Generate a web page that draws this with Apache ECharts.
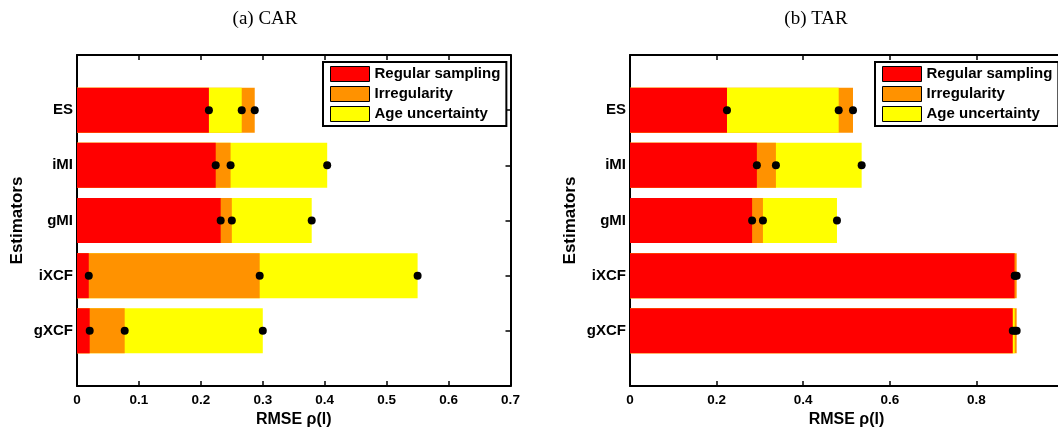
<!DOCTYPE html>
<html><head><meta charset="utf-8">
<script src="https://cdn.jsdelivr.net/npm/echarts@6/dist/echarts.min.js"></script>
<style>html,body{margin:0;padding:0;background:#fff;overflow:hidden}#c{width:1058px;height:428px}</style>
</head><body><div id="c"></div>
<script>
// ---- data (display order: top to bottom) ----
const estimators = ['ES', 'iMI', 'gMI', 'iXCF', 'gXCF'];
const seriesNames = ['Regular sampling', 'Irregularity', 'Age uncertainty'];
const carRegular      = [0.213, 0.224, 0.232, 0.019, 0.0205];
const carIrregularity = [0.287, 0.248, 0.250, 0.295, 0.077];
const carAge          = [0.266, 0.404, 0.379, 0.550, 0.300];
const tarRegular      = [0.224, 0.293, 0.282, 0.8885, 0.884];
const tarIrregularity = [0.515, 0.337, 0.307, 0.893, 0.893];
const tarAge          = [0.482, 0.535, 0.478, 0.889, 0.8885];
const carTickLabels = ['0', '0.1', '0.2', '0.3', '0.4', '0.5', '0.6', '0.7'];
const tarTickLabels = ['0', '0.2', '0.4', '0.6', '0.8', ''];
const panelTitles = ['(a) CAR', '(b) TAR'];
const xAxisName = 'RMSE ρ(l)';
const yAxisName = 'Estimators';

const colors = ['#FF0000', '#FF9200', '#FFFF00'];
const FONT = 'Liberation Sans, Arial, Helvetica, sans-serif';
const cats = [''].concat(estimators.slice().reverse()).concat([' ']);

function buildSeries(p, reg, irr, age) {
  const xi = p * 2, yi = p * 2;
  const layers = [[], [], []].map(() => cats.map(() => '-'));
  const dots = [];
  estimators.forEach((e, i) => {
    const idx = cats.length - 2 - i;
    const vals = [
      { v: reg[i], c: colors[0] },
      { v: irr[i], c: colors[1] },
      { v: age[i], c: colors[2] }
    ].sort((a, b) => b.v - a.v);
    vals.forEach((o, k) => {
      layers[k][idx] = { value: o.v, itemStyle: { color: o.c } };
      dots.push([o.v, idx]);
    });
  });
  const out = layers.map((d, k) => ({
    type: 'bar', name: 'layer' + p + k, xAxisIndex: xi, yAxisIndex: yi,
    data: d, barWidth: 45, barGap: '-100%', z: 2 + k, silent: true
  }));
  out.push({
    type: 'scatter', name: 'dots' + p, xAxisIndex: xi, yAxisIndex: yi,
    data: dots, symbol: 'circle', symbolSize: 8, z: 10, silent: true,
    itemStyle: { color: '#000', opacity: 1 }
  });
  return out;
}

const dummy = seriesNames.map((n, k) => ({
  type: 'bar', name: n, xAxisIndex: 0, yAxisIndex: 0, data: [],
  barWidth: 45, barGap: '-100%', itemStyle: { color: colors[k] }
}));

const axisLine = () => ({ show: true, onZero: false, lineStyle: { color: '#000', width: 2 } });
const tick = () => ({ show: true, inside: true, length: 5, lineStyle: { color: '#000', width: 1.5 } });

function xAxes(grid, max, interval, labels) {
  return [
    {
      gridIndex: grid, type: 'value', min: 0, max: max, interval: interval, position: 'bottom',
      axisLine: axisLine(), axisTick: tick(), splitLine: { show: false },
      axisLabel: {
        margin: 7, color: '#000', fontFamily: FONT, fontWeight: 'bold', fontSize: 13.5,
        formatter: v => labels[Math.round(v / interval)] || ''
      },
      name: xAxisName, nameLocation: 'middle', nameGap: 23,
      nameTextStyle: { color: '#000', fontFamily: FONT, fontWeight: 'bold', fontSize: 16 }
    },
    {
      gridIndex: grid, type: 'value', min: 0, max: max, interval: interval, position: 'top',
      axisLine: axisLine(), axisTick: tick(), splitLine: { show: false }, axisLabel: { show: false }
    }
  ];
}
function yAxes(grid) {
  return [
    {
      gridIndex: grid, type: 'category', data: cats, boundaryGap: false, position: 'left',
      axisLine: axisLine(), axisTick: tick(), splitLine: { show: false },
      axisLabel: { margin: 4, color: '#000', fontFamily: FONT, fontWeight: 'bold', fontSize: 15 },
      name: yAxisName, nameLocation: 'middle', nameGap: 51, nameRotate: 90,
      nameTextStyle: { color: '#000', fontFamily: FONT, fontWeight: 'bold', fontSize: 17 }
    },
    {
      gridIndex: grid, type: 'category', data: cats, boundaryGap: false, position: 'right',
      axisLine: axisLine(), axisTick: tick(), splitLine: { show: false }, axisLabel: { show: false }
    }
  ];
}
function legend(left) {
  return {
    left: left, top: 62, orient: 'vertical', data: seriesNames, icon: 'rect',
    itemWidth: 39, itemHeight: 15, itemGap: 4, padding: [4, 6, 4, 7],
    borderColor: '#000', borderWidth: 2, backgroundColor: '#fff', selectedMode: false,
    itemStyle: { borderColor: '#000', borderWidth: 1 },
    textStyle: { color: '#000', fontFamily: FONT, fontWeight: 'bold', fontSize: 15 }
  };
}

const chart = echarts.init(document.getElementById('c'), null, { renderer: 'canvas' });
chart.setOption({
  animation: false,
  backgroundColor: '#fff',
  grid: [
    { left: 77, top: 55, width: 433.5, height: 331, outerBoundsMode: 'none', containLabel: false },
    { left: 630, top: 55, width: 433, height: 331, outerBoundsMode: 'none', containLabel: false }
  ],
  xAxis: xAxes(0, 0.7, 0.1, carTickLabels).concat(xAxes(1, 1, 0.2, tarTickLabels)),
  yAxis: yAxes(0).concat(yAxes(1)),
  legend: [legend(323), legend(875)],
  graphic: [
    { type: 'text', x: 265, y: 19, style: { text: panelTitles[0], textAlign: 'center', textVerticalAlign: 'middle', font: '19px "Liberation Serif", "Times New Roman", serif', fill: '#000' } },
    { type: 'text', x: 816, y: 19, style: { text: panelTitles[1], textAlign: 'center', textVerticalAlign: 'middle', font: '19px "Liberation Serif", "Times New Roman", serif', fill: '#000' } }
  ],
  series: dummy
    .concat(buildSeries(0, carRegular, carIrregularity, carAge))
    .concat(buildSeries(1, tarRegular, tarIrregularity, tarAge))
});
</script>
</body></html>
